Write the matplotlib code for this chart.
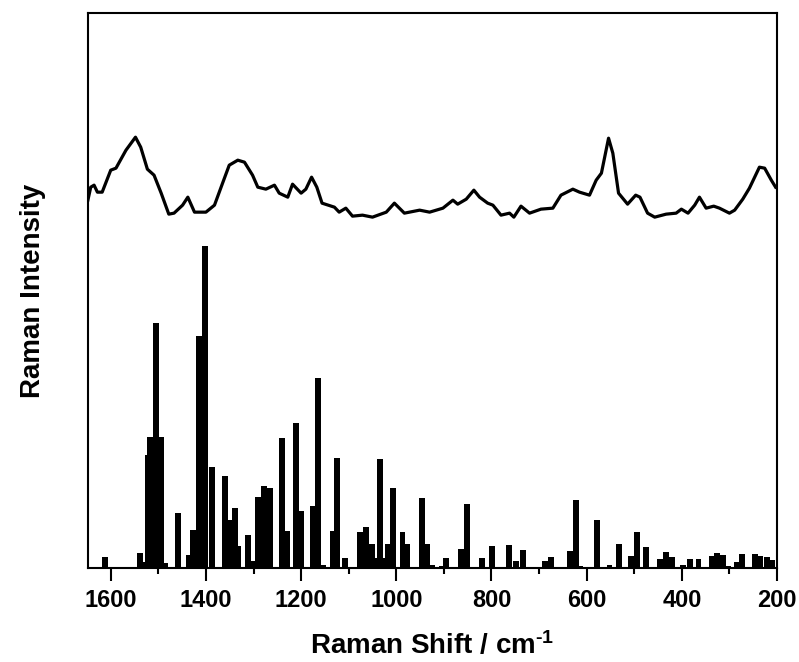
import matplotlib
matplotlib.use("Agg")
import matplotlib.pyplot as plt
import numpy as np
from matplotlib.ticker import MultipleLocator

plt.rcParams['font.family'] = ['Liberation Sans', 'DejaVu Sans']
plt.rcParams['mathtext.fontset'] = 'custom'
plt.rcParams['mathtext.rm'] = 'Liberation Sans:bold'
plt.rcParams['mathtext.bf'] = 'Liberation Sans:bold'
plt.rcParams['mathtext.default'] = 'bf'

# measured spectrum (upper trace)
spec_x = [1648, 1642, 1635, 1628, 1618, 1600, 1589, 1568, 1548, 1537, 1523, 1509,
          1494, 1478, 1467, 1449, 1438, 1424, 1400, 1382, 1365, 1351, 1333, 1319,
          1302, 1291, 1274, 1256, 1246, 1228, 1218, 1200, 1190, 1178, 1167, 1156,
          1130, 1120, 1106, 1092, 1071, 1050, 1021, 1004, 983, 951, 930, 902,
          881, 871, 853, 837, 825, 808, 797, 780, 762, 753, 738, 720, 696, 671,
          654, 629, 615, 594, 580, 569, 554, 545, 533, 514, 497, 488, 472, 457,
          433, 412, 401, 387, 373, 363, 349, 333, 321, 300, 289, 272, 258, 237,
          226, 212, 203]
spec_y = [368, 381, 383, 376, 376, 398, 400, 418, 431, 421, 399, 393,
          375, 354, 355, 363, 371, 356, 356, 363, 385, 403, 408, 406,
          393, 381, 379, 383, 375, 371, 384, 375, 379, 391, 381, 365,
          361, 356, 360, 352, 353, 351, 356, 365, 355, 358, 356, 360,
          368, 364, 369, 378, 371, 365, 363, 353, 355, 351, 362, 355, 359, 360,
          373, 379, 376, 373, 388, 395, 430, 415, 375, 364, 373, 371, 355, 351,
          354, 355, 359, 355, 363, 371, 360, 362, 360, 355, 358, 369, 380, 401,
          400, 388, 381]

# calculated modes (stick bars)
calc_x = [1612, 1538, 1530, 1522, 1517, 1504, 1494, 1486, 1458, 1435, 1427, 1415,
          1408, 1401, 1387, 1360, 1350, 1339, 1332, 1311, 1303, 1290, 1277, 1265,
          1240, 1229, 1210, 1201, 1176, 1164, 1153, 1133, 1124, 1108, 1076, 1063,
          1052, 1044, 1034, 1026, 1017, 1007, 987, 978, 946, 935, 925, 905, 895,
          864, 852, 819, 799, 763, 748, 733, 688, 675, 635, 623, 613, 578, 552,
          533, 506, 495, 476, 445, 433, 420, 397, 382, 365, 336, 326, 314, 304,
          285, 273, 247, 235, 222, 210]
calc_y = [11, 15, 6, 113, 131, 245, 131, 5, 55, 13, 38, 232,
          25, 322, 101, 92, 48, 60, 22, 33, 7, 71, 82, 80,
          130, 37, 145, 57, 62, 190, 3, 37, 110, 10, 36, 41,
          24, 10, 109, 10, 24, 80, 36, 24, 70, 24, 3, 2, 10,
          19, 64, 10, 22, 23, 7, 18, 7, 11, 17, 68, 2, 48, 3,
          24, 12, 36, 21, 9, 16, 11, 3, 9, 9, 12, 15, 13, 2,
          6, 14, 14, 12, 11, 8]

fig = plt.figure(figsize=(7.99, 6.62), dpi=100)
ax = fig.add_axes([0.110, 0.142, 0.8625, 0.838])

ax.bar(calc_x, calc_y, width=12.5, color='black', edgecolor='black', linewidth=0)
ax.plot(spec_x, spec_y, color='black', linewidth=2.3, solid_joinstyle='round')

ax.set_xlim(1648, 200)
ax.set_ylim(0, 555)
ax.xaxis.set_major_locator(MultipleLocator(200))
ax.xaxis.set_minor_locator(MultipleLocator(100))
ax.set_yticks([])
ax.tick_params(axis='x', which='major', direction='out', length=9, width=1.5,
               labelsize=17, pad=6)
ax.tick_params(axis='x', which='minor', direction='out', length=4.5, width=1.5)
for lab in ax.get_xticklabels():
    lab.set_fontweight('bold')
for s in ax.spines.values():
    s.set_linewidth(1.5)

ax.set_xlabel(r'Raman Shift / cm$^{\text{-}1}$', fontsize=20, fontweight='bold', labelpad=14)
ax.set_ylabel('Raman Intensity', fontsize=20, fontweight='bold', labelpad=30)

fig.savefig('out.png', dpi=100)
